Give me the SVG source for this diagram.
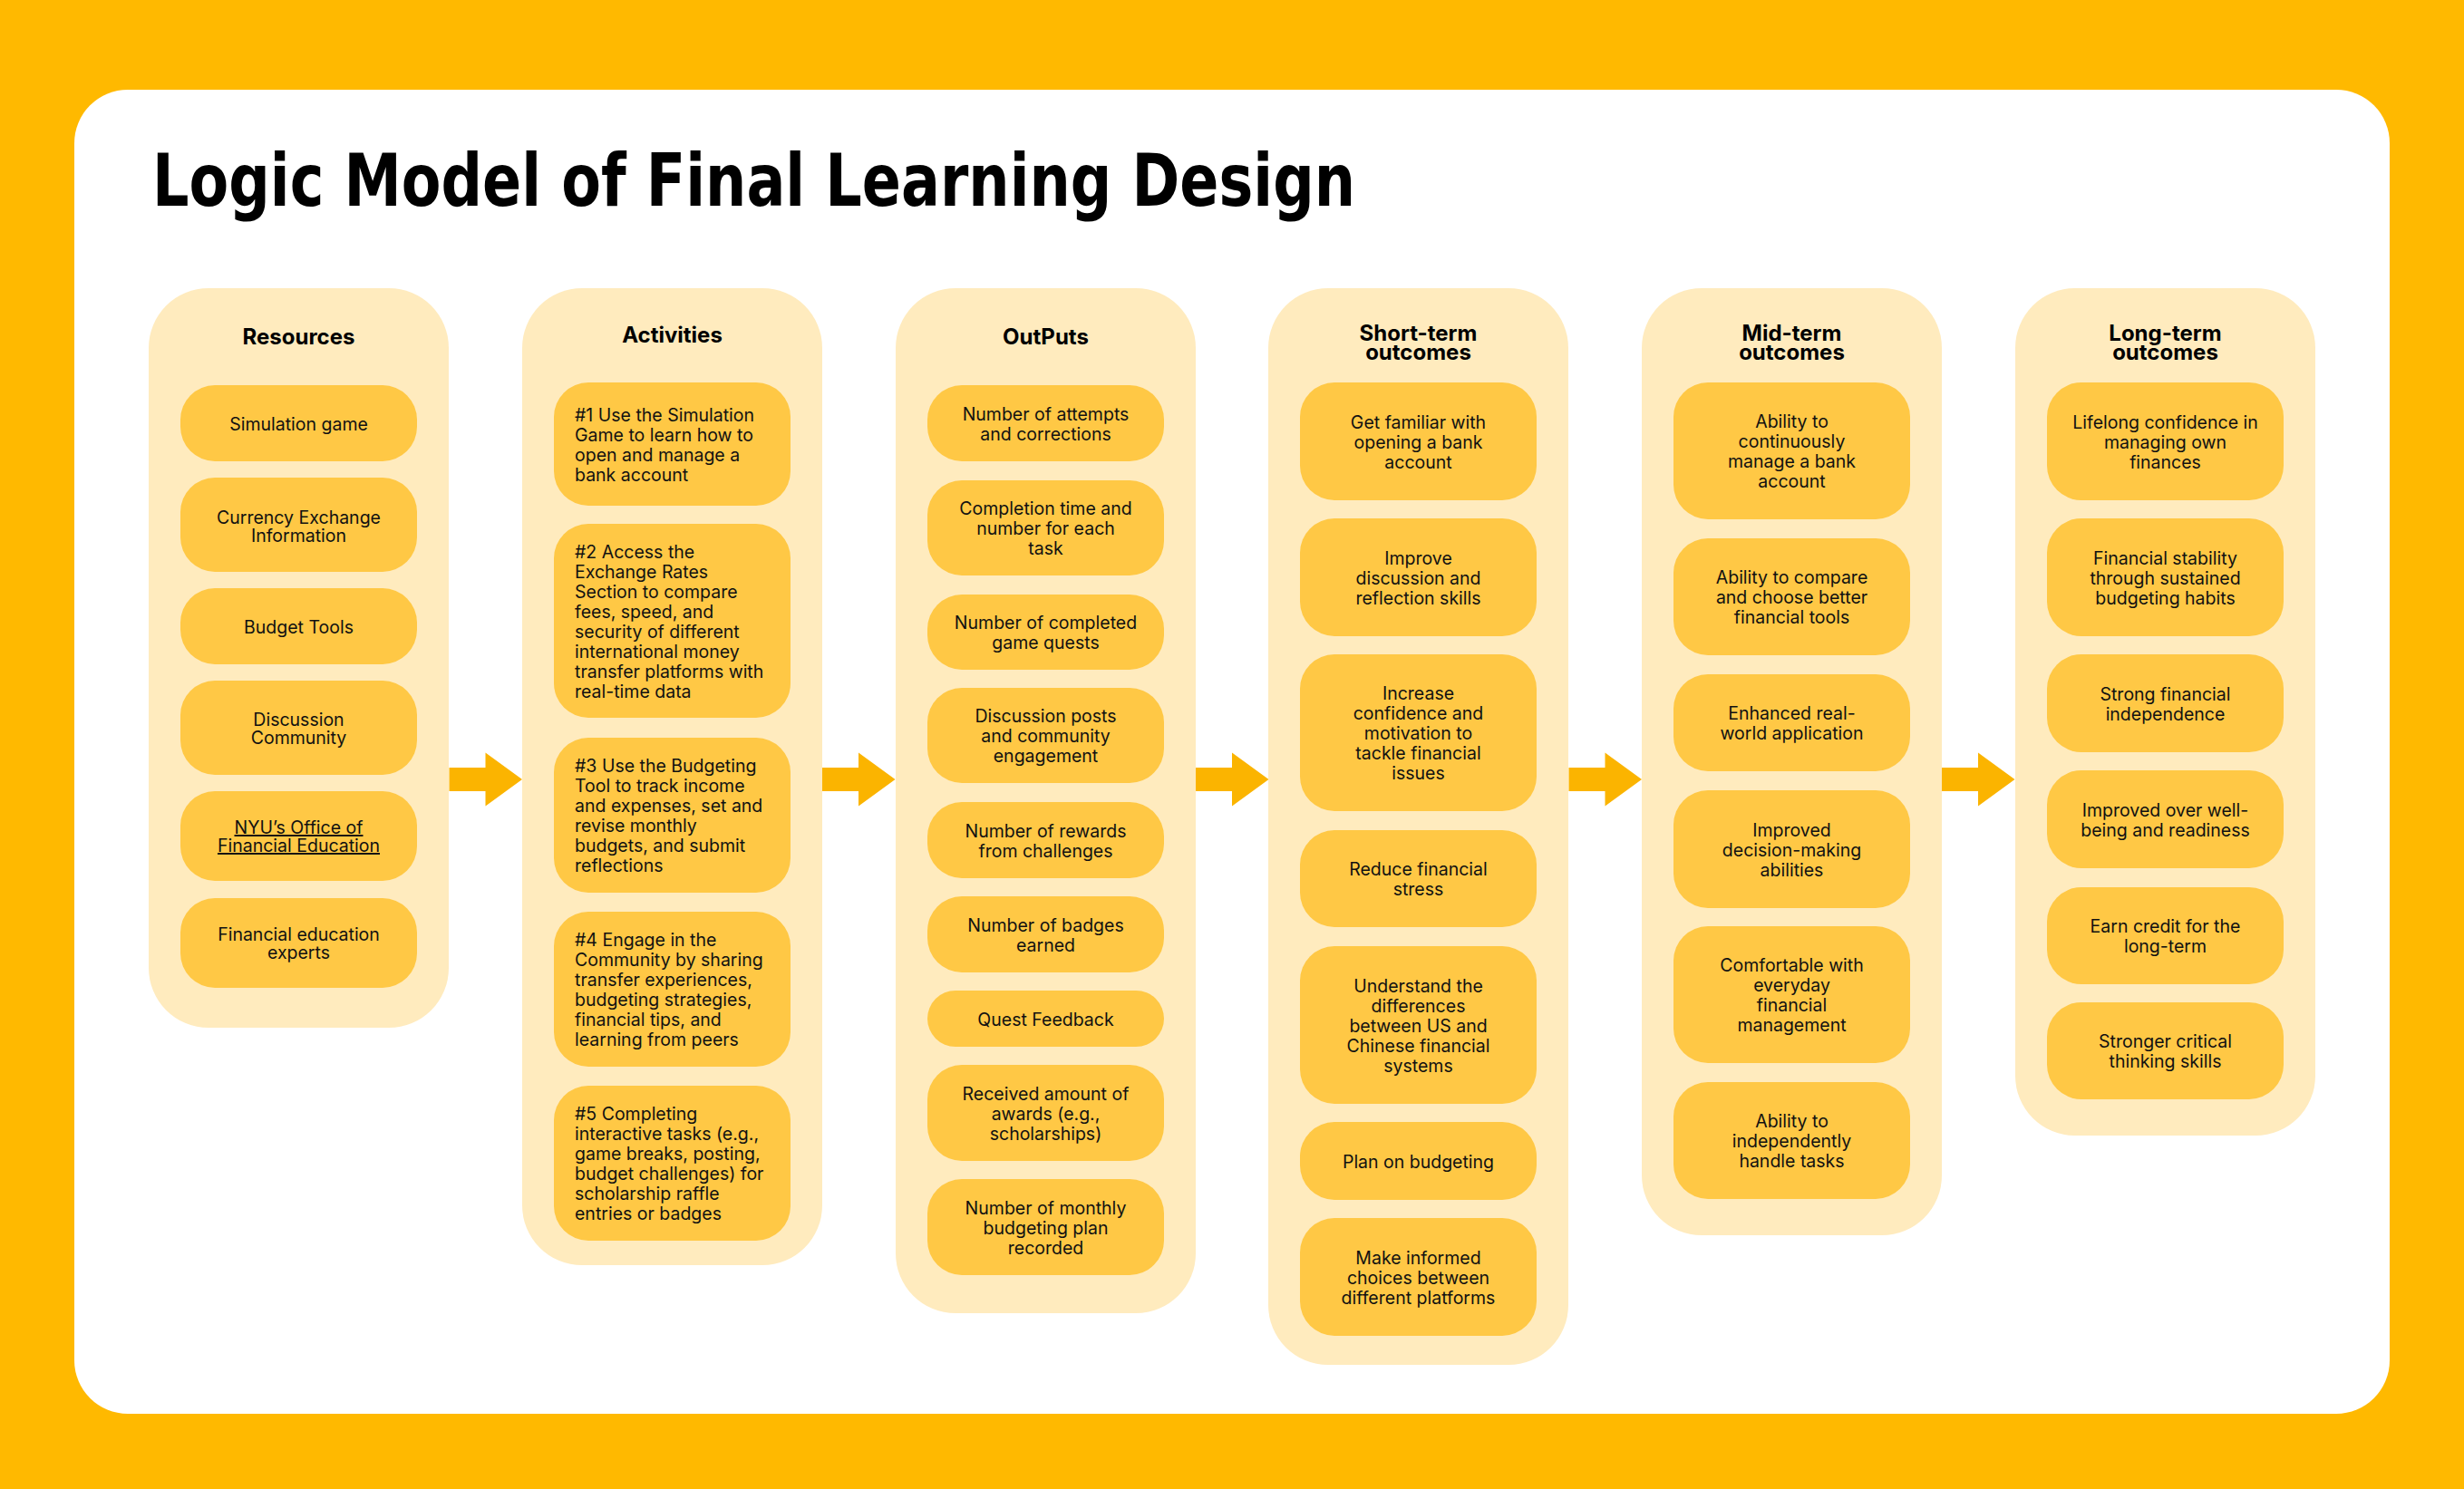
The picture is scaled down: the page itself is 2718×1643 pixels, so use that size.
<svg xmlns="http://www.w3.org/2000/svg" width="2718" height="1643" viewBox="0 0 2718 1643">
<style>
.bg{fill:#FFB900}
.card{fill:#FFFFFF}
.col{fill:#FFEBBE}
.box{fill:#FFC845}
.arrow{fill:#FBB400}
.title{font-family:"DejaVu Sans","Liberation Sans",sans-serif;font-weight:bold;font-size:81px;fill:#000}
.hdr{font-family:Inter,"Liberation Sans",sans-serif;font-weight:bold;font-size:24px;fill:#000;text-anchor:middle}
.t{font-family:Inter,"Liberation Sans",sans-serif;font-size:19.5px;fill:#111;text-anchor:middle}
.tl{font-family:Inter,"Liberation Sans",sans-serif;font-size:19.5px;fill:#111;text-anchor:start}
.u{text-decoration:underline}
</style>
<defs>
<path id="arr" d="M0,-13 H40 V-29.5 L80.5,0 L40,29.5 V13 H0 Z"/>
</defs>
<rect class="bg" x="0" y="0" width="2718" height="1643"/>
<rect class="card" x="82" y="99" width="2554" height="1461" rx="59"/>
<text class="title" x="168" y="227" textLength="1327" lengthAdjust="spacingAndGlyphs">Logic Model of Final Learning Design</text>

<g id="connectors">
<use href="#arr" class="arrow" x="495.5" y="860"/>
<use href="#arr" class="arrow" x="907" y="860"/>
<use href="#arr" class="arrow" x="1319" y="860"/>
<use href="#arr" class="arrow" x="1730.5" y="860"/>
<use href="#arr" class="arrow" x="2142" y="860"/>
</g>

<g id="resources">
<rect class="col" x="164" y="318" width="331" height="816" rx="66"/>
<text class="hdr" x="329.5" y="380">Resources</text>
<g id="r1"><rect class="box" x="199" y="425" width="261" height="84" rx="38"/><text class="t" x="329.5" y="474.5">Simulation game</text></g>
<g id="r2"><rect class="box" x="199" y="527" width="261" height="104" rx="38"/><text class="t" x="329.5" y="577.5">Currency Exchange<tspan x="329.5" dy="20">Information</tspan></text></g>
<g id="r3"><rect class="box" x="199" y="649" width="261" height="84" rx="38"/><text class="t" x="329.5" y="698.5">Budget Tools</text></g>
<g id="r4"><rect class="box" x="199" y="751" width="261" height="104" rx="38"/><text class="t" x="329.5" y="800.5">Discussion<tspan x="329.5" dy="20">Community</tspan></text></g>
<g id="r5"><rect class="box" x="199" y="873" width="261" height="99" rx="38"/><text class="t u" x="329.5" y="920">NYU’s Office of<tspan x="329.5" dy="20">Financial Education</tspan></text></g>
<g id="r6"><rect class="box" x="199" y="991" width="261" height="99" rx="38"/><text class="t" x="329.5" y="1038">Financial education<tspan x="329.5" dy="20">experts</tspan></text></g>
</g>

<g id="activities">
<rect class="col" x="576" y="318" width="331" height="1078" rx="66"/>
<text class="hdr" x="741.5" y="377.5">Activities</text>
<g id="a1"><rect class="box" x="611" y="422" width="261" height="136" rx="38"/><text class="tl" x="634" y="464.5">#1 Use the Simulation<tspan x="634" dy="22">Game to learn how to</tspan><tspan x="634" dy="22">open and manage a</tspan><tspan x="634" dy="22">bank account</tspan></text></g>
<g id="a2"><rect class="box" x="611" y="578" width="261" height="214" rx="38"/><text class="tl" x="634" y="615.5">#2 Access the<tspan x="634" dy="22">Exchange Rates</tspan><tspan x="634" dy="22">Section to compare</tspan><tspan x="634" dy="22">fees, speed, and</tspan><tspan x="634" dy="22">security of different</tspan><tspan x="634" dy="22">international money</tspan><tspan x="634" dy="22">transfer platforms with</tspan><tspan x="634" dy="22">real-time data</tspan></text></g>
<g id="a3"><rect class="box" x="611" y="814" width="261" height="171" rx="38"/><text class="tl" x="634" y="852">#3 Use the Budgeting<tspan x="634" dy="22">Tool to track income</tspan><tspan x="634" dy="22">and expenses, set and</tspan><tspan x="634" dy="22">revise monthly</tspan><tspan x="634" dy="22">budgets, and submit</tspan><tspan x="634" dy="22">reflections</tspan></text></g>
<g id="a4"><rect class="box" x="611" y="1006" width="261" height="171" rx="38"/><text class="tl" x="634" y="1044">#4 Engage in the<tspan x="634" dy="22">Community by sharing</tspan><tspan x="634" dy="22">transfer experiences,</tspan><tspan x="634" dy="22">budgeting strategies,</tspan><tspan x="634" dy="22">financial tips, and</tspan><tspan x="634" dy="22">learning from peers</tspan></text></g>
<g id="a5"><rect class="box" x="611" y="1198" width="261" height="171" rx="38"/><text class="tl" x="634" y="1236">#5 Completing<tspan x="634" dy="22">interactive tasks (e.g.,</tspan><tspan x="634" dy="22">game breaks, posting,</tspan><tspan x="634" dy="22">budget challenges) for</tspan><tspan x="634" dy="22">scholarship raffle</tspan><tspan x="634" dy="22">entries or badges</tspan></text></g>
</g>

<g id="outputs">
<rect class="col" x="988" y="318" width="331" height="1131" rx="66"/>
<text class="hdr" x="1153.5" y="380">OutPuts</text>
<g id="o1"><rect class="box" x="1023" y="425" width="261" height="84" rx="38"/><text class="t" x="1153.5" y="463.5">Number of attempts<tspan x="1153.5" dy="22">and corrections</tspan></text></g>
<g id="o2"><rect class="box" x="1023" y="530" width="261" height="105" rx="38"/><text class="t" x="1153.5" y="568">Completion time and<tspan x="1153.5" dy="22">number for each</tspan><tspan x="1153.5" dy="22">task</tspan></text></g>
<g id="o3"><rect class="box" x="1023" y="656" width="261" height="83" rx="38"/><text class="t" x="1153.5" y="694">Number of completed<tspan x="1153.5" dy="22">game quests</tspan></text></g>
<g id="o4"><rect class="box" x="1023" y="759" width="261" height="105" rx="38"/><text class="t" x="1153.5" y="797">Discussion posts<tspan x="1153.5" dy="22">and community</tspan><tspan x="1153.5" dy="22">engagement</tspan></text></g>
<g id="o5"><rect class="box" x="1023" y="885" width="261" height="84" rx="38"/><text class="t" x="1153.5" y="923.5">Number of rewards<tspan x="1153.5" dy="22">from challenges</tspan></text></g>
<g id="o6"><rect class="box" x="1023" y="989" width="261" height="84" rx="38"/><text class="t" x="1153.5" y="1027.5">Number of badges<tspan x="1153.5" dy="22">earned</tspan></text></g>
<g id="o7"><rect class="box" x="1023" y="1093" width="261" height="62" rx="31"/><text class="t" x="1153.5" y="1131.5">Quest Feedback</text></g>
<g id="o8"><rect class="box" x="1023" y="1175" width="261" height="106" rx="38"/><text class="t" x="1153.5" y="1213.5">Received amount of<tspan x="1153.5" dy="22">awards (e.g.,</tspan><tspan x="1153.5" dy="22">scholarships)</tspan></text></g>
<g id="o9"><rect class="box" x="1023" y="1301" width="261" height="106" rx="38"/><text class="t" x="1153.5" y="1339.5">Number of monthly<tspan x="1153.5" dy="22">budgeting plan</tspan><tspan x="1153.5" dy="22">recorded</tspan></text></g>
</g>

<g id="short-term">
<rect class="col" x="1399" y="318" width="331" height="1188" rx="66"/>
<text class="hdr" x="1564.5" y="376">Short-term<tspan x="1564.5" dy="21">outcomes</tspan></text>
<g id="s1"><rect class="box" x="1434" y="422" width="261" height="130" rx="38"/><text class="t" x="1564.5" y="472.5">Get familiar with<tspan x="1564.5" dy="22">opening a bank</tspan><tspan x="1564.5" dy="22">account</tspan></text></g>
<g id="s2"><rect class="box" x="1434" y="572" width="261" height="130" rx="38"/><text class="t" x="1564.5" y="622.5">Improve<tspan x="1564.5" dy="22">discussion and</tspan><tspan x="1564.5" dy="22">reflection skills</tspan></text></g>
<g id="s3"><rect class="box" x="1434" y="722" width="261" height="173" rx="38"/><text class="t" x="1564.5" y="772">Increase<tspan x="1564.5" dy="22">confidence and</tspan><tspan x="1564.5" dy="22">motivation to</tspan><tspan x="1564.5" dy="22">tackle financial</tspan><tspan x="1564.5" dy="22">issues</tspan></text></g>
<g id="s4"><rect class="box" x="1434" y="916" width="261" height="107" rx="38"/><text class="t" x="1564.5" y="966">Reduce financial<tspan x="1564.5" dy="22">stress</tspan></text></g>
<g id="s5"><rect class="box" x="1434" y="1044" width="261" height="174" rx="38"/><text class="t" x="1564.5" y="1094.5">Understand the<tspan x="1564.5" dy="22">differences</tspan><tspan x="1564.5" dy="22">between US and</tspan><tspan x="1564.5" dy="22">Chinese financial</tspan><tspan x="1564.5" dy="22">systems</tspan></text></g>
<g id="s6"><rect class="box" x="1434" y="1238" width="261" height="86" rx="38"/><text class="t" x="1564.5" y="1288.5">Plan on budgeting</text></g>
<g id="s7"><rect class="box" x="1434" y="1344" width="261" height="130" rx="38"/><text class="t" x="1564.5" y="1394.5">Make informed<tspan x="1564.5" dy="22">choices between</tspan><tspan x="1564.5" dy="22">different platforms</tspan></text></g>
</g>

<g id="mid-term">
<rect class="col" x="1811" y="318" width="331" height="1045" rx="66"/>
<text class="hdr" x="1976.5" y="376">Mid-term<tspan x="1976.5" dy="21">outcomes</tspan></text>
<g id="m1"><rect class="box" x="1846" y="422" width="261" height="151" rx="38"/><text class="t" x="1976.5" y="472">Ability to<tspan x="1976.5" dy="22">continuously</tspan><tspan x="1976.5" dy="22">manage a bank</tspan><tspan x="1976.5" dy="22">account</tspan></text></g>
<g id="m2"><rect class="box" x="1846" y="594" width="261" height="129" rx="38"/><text class="t" x="1976.5" y="644">Ability to compare<tspan x="1976.5" dy="22">and choose better</tspan><tspan x="1976.5" dy="22">financial tools</tspan></text></g>
<g id="m3"><rect class="box" x="1846" y="744" width="261" height="107" rx="38"/><text class="t" x="1976.5" y="794">Enhanced real-<tspan x="1976.5" dy="22">world application</tspan></text></g>
<g id="m4"><rect class="box" x="1846" y="872" width="261" height="130" rx="38"/><text class="t" x="1976.5" y="922.5">Improved<tspan x="1976.5" dy="22">decision-making</tspan><tspan x="1976.5" dy="22">abilities</tspan></text></g>
<g id="m5"><rect class="box" x="1846" y="1022" width="261" height="151" rx="38"/><text class="t" x="1976.5" y="1072">Comfortable with<tspan x="1976.5" dy="22">everyday</tspan><tspan x="1976.5" dy="22">financial</tspan><tspan x="1976.5" dy="22">management</tspan></text></g>
<g id="m6"><rect class="box" x="1846" y="1194" width="261" height="129" rx="38"/><text class="t" x="1976.5" y="1244">Ability to<tspan x="1976.5" dy="22">independently</tspan><tspan x="1976.5" dy="22">handle tasks</tspan></text></g>
</g>

<g id="long-term">
<rect class="col" x="2223" y="318" width="331" height="935" rx="66"/>
<text class="hdr" x="2388.5" y="376">Long-term<tspan x="2388.5" dy="21">outcomes</tspan></text>
<g id="l1"><rect class="box" x="2258" y="422" width="261" height="130" rx="38"/><text class="t" x="2388.5" y="472.5">Lifelong confidence in<tspan x="2388.5" dy="22">managing own</tspan><tspan x="2388.5" dy="22">finances</tspan></text></g>
<g id="l2"><rect class="box" x="2258" y="572" width="261" height="130" rx="38"/><text class="t" x="2388.5" y="622.5">Financial stability<tspan x="2388.5" dy="22">through sustained</tspan><tspan x="2388.5" dy="22">budgeting habits</tspan></text></g>
<g id="l3"><rect class="box" x="2258" y="722" width="261" height="108" rx="38"/><text class="t" x="2388.5" y="772.5">Strong financial<tspan x="2388.5" dy="22">independence</tspan></text></g>
<g id="l4"><rect class="box" x="2258" y="850" width="261" height="108" rx="38"/><text class="t" x="2388.5" y="900.5">Improved over well-<tspan x="2388.5" dy="22">being and readiness</tspan></text></g>
<g id="l5"><rect class="box" x="2258" y="979" width="261" height="107" rx="38"/><text class="t" x="2388.5" y="1029">Earn credit for the<tspan x="2388.5" dy="22">long-term</tspan></text></g>
<g id="l6"><rect class="box" x="2258" y="1106" width="261" height="107" rx="38"/><text class="t" x="2388.5" y="1156">Stronger critical<tspan x="2388.5" dy="22">thinking skills</tspan></text></g>
</g>
</svg>
